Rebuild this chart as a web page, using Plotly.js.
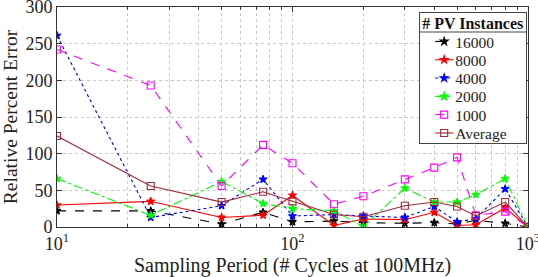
<!DOCTYPE html>
<html>
<head>
<meta charset="utf-8">
<script src="https://cdn.plot.ly/plotly-3.0.1.min.js"></script>
<style>html,body{margin:0;padding:0;background:#fff;}#chart{width:538px;height:277px;}</style>
</head>
<body>
<div id="chart"></div>
<script>
const samplingPeriods = [10, 25, 50, 75, 100, 150, 200, 300, 400, 500, 600, 800, 1000];
const seriesNames = ['16000', '8000', '4000', '2000', '1000', 'Average'];
const err16000 = [22, 22, 4, 20, 7, 8, 6, 5, 6, 4, 9, 5, 0];
const err8000  = [30, 35, 13, 16, 43, 2, 11, 10, 20, 2, 3, 26, 0];
const err4000  = [261, 13, 29, 65, 15, 17, 15, 13, 28, 7, 11, 52, 0];
const err2000  = [66, 16, 62, 32, 25, 22, 0.5, 53, 34, 34, 44, 66, 0];
const err1000  = [242, 193, 56, 112, 87, 31, 42, 65, 81, 95, 16, 21, 0];
const errAvg   = [124, 56, 34, 48, 35, 17, 14, 29, 34, 28, 15, 34, 0];
const majorTicks = [10, 100, 1000];
const majorTickText = ['10<sup>1</sup>', '10<sup>2</sup>', '10<sup>3</sup>'];
const minorTicks = [20, 30, 40, 50, 60, 70, 80, 90, 200, 300, 400, 500, 600, 700, 800, 900];
const yTicks = [0, 50, 100, 150, 200, 250, 300];

const styles = [
  {color: '#000000', dash: 'dash', symbol: 'star', size: 6},
  {color: '#ff0000', dash: 'solid', symbol: 'star', size: 6},
  {color: '#0000ff', dash: 'dot', symbol: 'star', size: 6},
  {color: '#00ff00', dash: 'dashdot', symbol: 'star', size: 6},
  {color: '#ff00ff', dash: 'dash', symbol: 'square-open', size: 7},
  {color: '#a0283c', dash: 'solid', symbol: 'square-open', size: 7}
];
const values = [err16000, err8000, err4000, err2000, err1000, errAvg];

const traces = values.map((ys, i) => ({
  x: samplingPeriods,
  y: ys,
  name: seriesNames[i],
  type: 'scatter',
  mode: 'lines+markers',
  line: {color: styles[i].color, dash: styles[i].dash, width: 1.1},
  marker: {color: styles[i].color, symbol: styles[i].symbol, size: styles[i].size,
           line: {color: styles[i].color, width: 1.1}}
}));

const serif = 'Liberation Serif, Times New Roman, serif';
const txt = '#222';
const layout = {
  width: 538, height: 277,
  margin: {l: 57, r: 10, t: 7, b: 50},
  paper_bgcolor: '#fff', plot_bgcolor: '#fff',
  font: {family: serif, size: 16, color: txt},
  showlegend: true,
  legend: {
    x: 0.769, y: 0.977, xanchor: 'left', yanchor: 'top',
    bgcolor: '#fff', bordercolor: '#444', borderwidth: 1,
    font: {family: serif, size: 15.5, color: txt},
    title: {text: '<b># PV Instances</b>', font: {family: serif, size: 16, color: '#111'}},
    itemwidth: 30, tracegroupgap: 0
  },
  xaxis: {
    type: 'log', range: [1, 3],
    tickmode: 'array', tickvals: majorTicks, ticktext: majorTickText,
    ticks: 'inside', ticklen: 5, tickcolor: '#333',
    showline: true, linecolor: '#333', linewidth: 1, mirror: 'ticks',
    showgrid: true, gridcolor: '#c8c8c8', griddash: 'dot', gridwidth: 1,
    zeroline: false, ticklabeloverflow: 'allow',
    tickfont: {family: serif, size: 18, color: txt},
    minor: {tickmode: 'array', tickvals: minorTicks, ticks: 'inside', ticklen: 3, tickcolor: '#333',
            showgrid: true, gridcolor: '#c8c8c8', griddash: 'dot', gridwidth: 1},
    title: {text: 'Sampling Period (# Cycles at 100MHz)', font: {family: serif, size: 20, color: txt}, standoff: 1}
  },
  yaxis: {
    range: [0, 300], tickmode: 'array', tickvals: yTicks,
    ticks: 'inside', ticklen: 5, tickcolor: '#333',
    showline: true, linecolor: '#333', linewidth: 1, mirror: 'ticks',
    showgrid: true, gridcolor: '#c8c8c8', griddash: 'dot', gridwidth: 1,
    zeroline: false, ticklabeloverflow: 'allow',
    tickfont: {family: serif, size: 18, color: txt},
    title: {text: 'Relative Percent Error', font: {family: serif, size: 19.5, color: txt}, standoff: 2}
  }
};

function shiftY(el, dy) {
  const t = el.getAttribute('transform') || '';
  const m = /translate\(\s*([-\d.e]+)(?:[ ,]+([-\d.e]+))?\s*\)/.exec(t);
  if (m) {
    const x = parseFloat(m[1]), y = parseFloat(m[2] || 0) + dy;
    el.setAttribute('transform', t.replace(m[0], 'translate(' + x + ',' + y + ')'));
  } else {
    el.setAttribute('transform', ('translate(0,' + dy + ') ' + t).trim());
  }
}
function centerY(el) { const r = el.getBoundingClientRect(); return (r.top + r.bottom) / 2; }

Plotly.newPlot('chart', traces, layout, {displayModeBar: false, staticPlot: true}).then(gd => {
  const leg = gd.querySelector('g.legend');
  if (!leg) return;
  const bg = leg.querySelector('rect.bg');
  if (!bg) return;
  const boxTop = 12, boxH = 131, titleC = 24, sepY = 32, firstC = 42, step = 18.3;
  const r0 = bg.getBoundingClientRect();
  const localTop = parseFloat(bg.getAttribute('y') || 0);
  const toLocal = sy => localTop + (sy - r0.top);
  const title = leg.querySelector('.legendtitletext');
  if (title) shiftY(title, titleC - centerY(title));
  const items = Array.from(leg.querySelectorAll('g.traces'));
  items.forEach((it, i) => {
    const t = it.querySelector('text.legendtext') || it;
    shiftY(it, firstC + i * step - centerY(t));
    // tighter sample: short line, marker in its middle, text closer
    it.querySelectorAll('.legendlines path').forEach(p => p.setAttribute('d', 'M15,0h18'));
    it.querySelectorAll('.legendpoints path').forEach(p => p.setAttribute('transform', 'translate(24,0)'));
    const lt = it.querySelector('text.legendtext');
    if (lt) {
      lt.setAttribute('x', 35);
      lt.querySelectorAll('tspan[x]').forEach(s => s.setAttribute('x', 35));
    }
  });
  bg.setAttribute('y', localTop + (boxTop - r0.top));
  bg.setAttribute('height', boxH);
  const w = parseFloat(bg.getAttribute('width'));
  const x0 = parseFloat(bg.getAttribute('x') || 0);
  const ns = 'http://www.w3.org/2000/svg';
  const line = document.createElementNS(ns, 'line');
  const ly = toLocal(sepY);
  line.setAttribute('x1', x0); line.setAttribute('x2', x0 + w);
  line.setAttribute('y1', ly); line.setAttribute('y2', ly);
  line.setAttribute('stroke', '#444'); line.setAttribute('stroke-width', 1);
  bg.parentNode.insertBefore(line, bg.nextSibling);
  leg.querySelectorAll('[clip-path]').forEach(e => e.removeAttribute('clip-path'));
});
</script>
</body>
</html>
